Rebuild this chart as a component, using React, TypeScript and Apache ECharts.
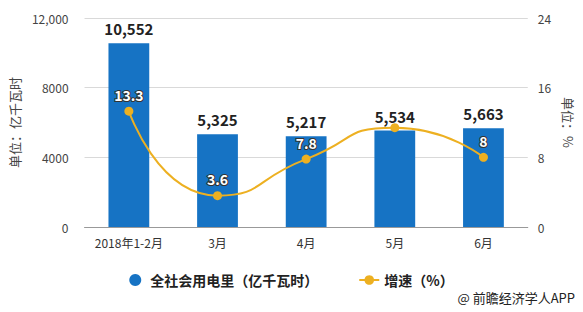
import React, { useEffect, useRef } from "react";
import * as echarts from "echarts";

const categories = ["2018年1-2月", "3月", "4月", "5月", "6月"];
const consumption = [10552, 5325, 5217, 5534, 5663];
const growth = [13.3, 3.6, 7.8, 11.4, 8];
const growthLabelShown = [true, true, true, false, true];
const leftTicks = [0, 4000, 8000, 12000];
const leftTickLabels = ["0", "4000", "8000", "12,000"];
const rightTicks = [0, 8, 16, 24];

const FONT = "'Noto Sans CJK SC', 'Microsoft YaHei', sans-serif";

export default function App() {
  const ref = useRef<HTMLDivElement>(null);
  useEffect(() => {
    if (!ref.current) return;
    const chart = echarts.init(ref.current, undefined, { renderer: "svg" });
    chart.setOption({
      animation: false,
      textStyle: { fontFamily: FONT },
      grid: { left: 80, right: 46, top: 18, bottom: 85 },
      legend: {
        left: "center",
        top: 268,
        itemGap: 40,
        itemWidth: 20,
        itemHeight: 12,
        textStyle: { fontSize: 14, fontWeight: "bold", color: "#222", fontFamily: FONT },
        data: [
          { name: "全社会用电里（亿千瓦时）", icon: "circle" },
          { name: "增速（%）" },
        ],
      },
      graphic: [
        {
          type: "text",
          right: 8,
          top: 291,
          style: { text: "@ 前瞻经济学人APP", fontSize: 13, fill: "#222", fontFamily: FONT },
        },
      ],
      xAxis: {
        type: "category",
        data: categories,
        axisLine: { lineStyle: { color: "#999" } },
        axisTick: { alignWithLabel: true, length: 5, lineStyle: { color: "#999" } },
        axisLabel: { color: "#333", fontSize: 12, margin: 9, fontFamily: FONT },
      },
      yAxis: [
        {
          type: "value",
          min: leftTicks[0],
          max: leftTicks[leftTicks.length - 1],
          interval: leftTicks[1] - leftTicks[0],
          name: "单位：亿千瓦时",
          nameLocation: "middle",
          nameGap: 63,
          nameTextStyle: { color: "#444", fontSize: 13, fontFamily: FONT },
          axisLine: { show: false },
          axisTick: { show: false },
          axisLabel: {
            color: "#444",
            fontSize: 12,
            margin: 16,
            formatter: (v: number) => leftTickLabels[leftTicks.indexOf(v)] ?? String(v),
          },
          splitLine: { lineStyle: { color: "#d9d9d9" } },
        },
        {
          type: "value",
          min: rightTicks[0],
          max: rightTicks[rightTicks.length - 1],
          interval: rightTicks[1] - rightTicks[0],
          name: "单位：%",
          nameLocation: "middle",
          nameRotate: -90,
          nameGap: 30,
          nameTextStyle: { color: "#444", fontSize: 13, fontFamily: FONT },
          axisLine: { show: false },
          axisTick: { show: false },
          axisLabel: { color: "#444", fontSize: 12, margin: 10 },
          splitLine: { show: false },
        },
      ],
      series: [
        {
          name: "全社会用电里（亿千瓦时）",
          type: "bar",
          data: consumption,
          barWidth: "46%",
          itemStyle: { color: "#1673C4" },
          label: {
            show: true,
            position: "top",
            distance: 7,
            fontSize: 15,
            fontWeight: "bold",
            color: "#222",
            fontFamily: FONT,
            formatter: (p: any) => Number(p.value).toLocaleString("en-US"),
          },
        },
        {
          name: "增速（%）",
          type: "line",
          yAxisIndex: 1,
          smooth: 0.6,
          data: growth.map((v, i) => ({ value: v, label: { show: growthLabelShown[i] } })),
          symbol: "circle",
          symbolSize: 9,
          lineStyle: { color: "#EDB021", width: 2 },
          itemStyle: { color: "#EDB021" },
          label: {
            show: true,
            position: "top",
            distance: 5,
            fontSize: 14,
            fontWeight: "bold",
            color: "#fff",
            textBorderColor: "#333",
            textBorderWidth: 2,
            fontFamily: FONT,
          },
          z: 5,
        },
      ],
    });
    return () => chart.dispose();
  }, []);
  return <div ref={ref} style={{ width: 583, height: 312, position: "absolute", left: 0, top: 0, background: "#fff" }} />;
}
